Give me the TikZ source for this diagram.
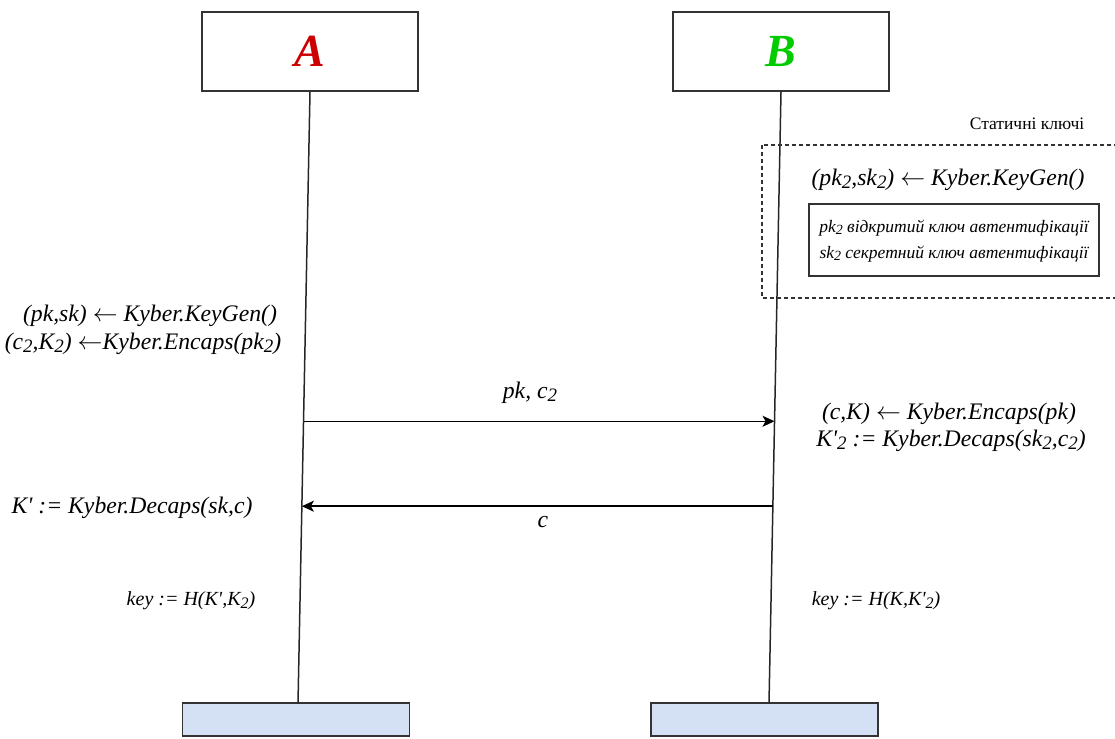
\documentclass[tikz,border=0pt]{standalone}
\usepackage{fontspec}
\usepackage{graphicx}
\setmainfont{Liberation Serif}
\usetikzlibrary{arrows.meta,calc}

\definecolor{partyA}{HTML}{CC0000}
\definecolor{partyB}{HTML}{00CC00}
\definecolor{endfill}{HTML}{D4E1F5}
\definecolor{edge}{HTML}{333333}

\newcommand\low[1]{\raisebox{-0.3ex}{\scalebox{0.8}{#1}}}
\newcommand\apos{\textquotesingle}
\newcommand\getarrow{$\leftarrow$}

\begin{document}
\begin{tikzpicture}[x=1pt,y=-1pt,
  headbox/.style={draw=edge, line width=1.7pt, fill=white, inner sep=0pt,
    minimum width=216pt, minimum height=79pt,
    font=\fontsize{46}{46}\selectfont\bfseries\itshape},
  footbox/.style={draw=edge, line width=1.7pt, fill=endfill, inner sep=0pt,
    minimum width=227pt, minimum height=33pt},
  lifeline/.style={draw=black!85, line width=1.5pt},
  msg/.style={draw=black, line width=1.5pt,
    -{Stealth[length=12pt, width=11pt, inset=3pt]}},
  formula/.style={inner sep=1pt, font=\fontsize{23.7}{28}\selectfont\itshape},
  note/.style={inner sep=1pt, font=\fontsize{20}{24}\selectfont\itshape},
  small/.style={inner sep=1pt, font=\fontsize{17.5}{26}\selectfont\itshape, align=center},
]
\useasboundingbox (0,0) rectangle (1115,738);
\clip (0,0) rectangle (1115,738);

% parties
\node[headbox] (Atop) at (310,51.5) {\textcolor{partyA}{A}};
\node[headbox] (Btop) at (781,51.5) {\textcolor{partyB}{B}};
\node[footbox] (Abot) at (296,719.5) {};
\node[footbox] (Bbot) at (764.5,719.5) {};
\coordinate (Aend) at (298,703);
\coordinate (Bend) at (769,703);

% lifelines
\draw[lifeline] (Atop.south) -- (Aend);
\draw[lifeline] (Btop.south) -- (Bend);

% static keys of B
\node[inner sep=0pt, font=\fontsize{17.5}{17.5}\selectfont] (stitle) at (1027,124) {Статичні ключі};
\draw[draw=edge, line width=1.4pt, dash pattern=on 4pt off 3pt] (762,145) rectangle (1130,298);
\node[formula] (bkeygen) at (948,180) {(pk\low{2},sk\low{2}) \getarrow{} Kyber.KeyGen()};
\node[draw=edge, line width=1.5pt, minimum width=290pt, minimum height=72pt, inner sep=0pt] (legend) at (954,240) {};
\node[small] (legendtext) at (954,241) {pk\low{2} відкритий ключ автентифікації\\sk\low{2} секретний ключ автентифікації};

% computations of A
\node[formula] (akeygen) at (150,316) {(pk,sk) \getarrow{} Kyber.KeyGen()};
\node[formula] (aencaps) at (143,344) {(c\low{2},K\low{2}) \getarrow Kyber.Encaps(pk\low{2})};
\node[formula] (adecaps) at (132,508) {K\apos{} := Kyber.Decaps(sk,c)};
\node[note] (akey) at (191,601) {key := H(K\apos,K\low{2})};

% computations of B
\node[formula] (bencaps) at (949,414) {(c,K) \getarrow{} Kyber.Encaps(pk)};
\node[formula] (bdecaps) at (951,441) {K\apos\low{2} := Kyber.Decaps(sk\low{2},c\low{2})};
\node[note] (bkey) at (876,601) {key := H(K,K\apos\low{2})};

% messages
\coordinate (m1a) at ($(Atop.south)!0.539!(Aend)$);
\coordinate (m1b) at ($(Btop.south)!0.539!(Bend)$);
\coordinate (m2a) at ($(Atop.south)!0.678!(Aend)$);
\coordinate (m2b) at ($(Btop.south)!0.678!(Bend)$);
\draw[msg] (m1a) -- (m1b);
\draw[msg] (m2b) -- (m2a);
\node[formula] (l1) at (530,393) {pk, c\low{2}};
\node[formula] (l2) at (543,522) {c};
\end{tikzpicture}
\end{document}
